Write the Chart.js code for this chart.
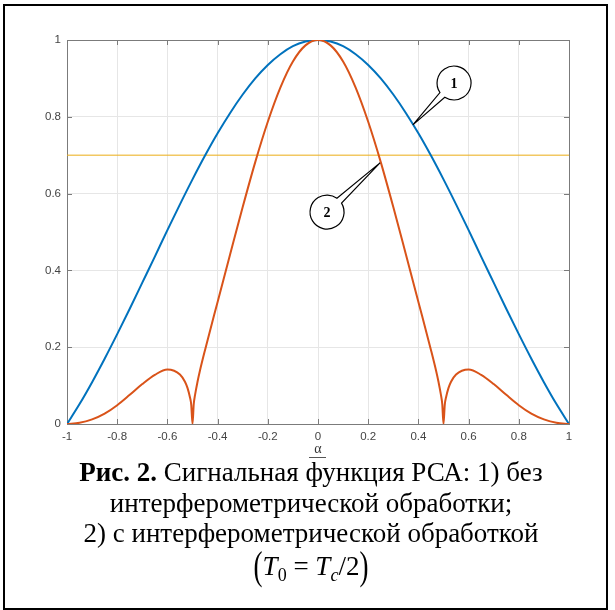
<!DOCTYPE html>
<html>
<head>
<meta charset="utf-8">
<script src="https://cdn.jsdelivr.net/npm/chart.js@4.4.1/dist/chart.umd.min.js"></script>
<style>
  html, body { margin: 0; padding: 0; background: #fff; overflow: hidden; }
  body { width: 615px; height: 610px; position: relative; }
  #frame { position: absolute; left: 3px; top: 4px; width: 605px; height: 606px;
           border: 2px solid #000; box-sizing: border-box; }
  #chart { position: absolute; left: 0; top: 0; }
  #cap { position: absolute; left: 0; top: 457px; width: 622px; text-align: center;
         font-family: "Liberation Serif", "Times New Roman", serif; font-size: 27px;
         line-height: 30.5px; color: #000; }
  #cap .f { display: inline-block; margin-top: 2px; }
  #cap .p { display: inline-block; transform: scaleY(1.45); font-weight: 300; }
  #cap sub { font-size: 18px; vertical-align: -6px; line-height: 0; }
</style>
</head>
<body>
<div id="frame"></div>
<canvas id="chart" width="615" height="460"></canvas>
<div id="cap"><b>Рис. 2.</b> Сигнальная функция РСА: 1) без<br>интерферометрической обработки;<br>2) с интерферометрической обработкой<br><span class="f"><span class="p">(</span><i>T</i><sub>0</sub> = <i>T</i><sub><i>c</i></sub>/2<span class="p">)</span></span></div>
<script>
// tick labels
var xTicks = [-1, -0.8, -0.6, -0.4, -0.2, 0, 0.2, 0.4, 0.6, 0.8, 1];
var yTicks = [0, 0.2, 0.4, 0.6, 0.8, 1];

// curve 1 - without interferometric processing
var alphaBlue = [-1, -0.95, -0.9, -0.85, -0.8, -0.75, -0.7, -0.65, -0.6, -0.55, -0.5,
  -0.45, -0.4, -0.35, -0.3, -0.25, -0.2, -0.15, -0.1, -0.05, 0,
  0.05, 0.1, 0.15, 0.2, 0.25, 0.3, 0.35, 0.4, 0.45, 0.5,
  0.55, 0.6, 0.65, 0.7, 0.75, 0.8, 0.85, 0.9, 0.95, 1];
var blueVals = [0, 0.052, 0.109, 0.170, 0.234, 0.300, 0.368, 0.436, 0.505, 0.572, 0.637,
  0.699, 0.757, 0.810, 0.858, 0.900, 0.935, 0.963, 0.984, 0.996, 1,
  0.996, 0.984, 0.963, 0.935, 0.900, 0.858, 0.810, 0.757, 0.699, 0.637,
  0.572, 0.505, 0.436, 0.368, 0.300, 0.234, 0.170, 0.109, 0.052, 0];

// curve 2 - with interferometric processing
var alphaOrange = [-1, -0.95, -0.9, -0.85, -0.8, -0.75, -0.7, -0.65, -0.6, -0.55,
  -0.53, -0.52, -0.51, -0.505, -0.5, -0.495, -0.49, -0.48, -0.47, -0.45,
  -0.4, -0.35, -0.3, -0.25, -0.2, -0.15, -0.1, -0.05, 0,
  0.05, 0.1, 0.15, 0.2, 0.25, 0.3, 0.35, 0.4, 0.45, 0.47, 0.48, 0.49, 0.495, 0.5,
  0.505, 0.51, 0.52, 0.53, 0.55, 0.6, 0.65, 0.7, 0.75, 0.8, 0.85, 0.9, 0.95, 1];
var orangeVals = [0, 0.003, 0.012, 0.027, 0.049, 0.076, 0.104, 0.128, 0.142, 0.129,
  0.110, 0.094, 0.069, 0.050, 0, 0.052, 0.075, 0.110, 0.140, 0.193,
  0.318, 0.442, 0.565, 0.682, 0.787, 0.876, 0.944, 0.986, 1,
  0.986, 0.944, 0.876, 0.787, 0.682, 0.565, 0.442, 0.318, 0.193, 0.140, 0.110, 0.075, 0.052, 0,
  0.050, 0.069, 0.094, 0.110, 0.129, 0.142, 0.128, 0.104, 0.076, 0.049, 0.027, 0.012, 0.003, 0];

// 0.7 level
var levelAlpha = [-1, 1];
var levelVals = [0.7, 0.7];

// callouts: circle centre and arrow tip, in axis units
var callouts = [
  {text: '1', cx: 0.542, cy: 0.888, tx: 0.378, ty: 0.779},
  {text: '2', cx: 0.036, cy: 0.552, tx: 0.247, ty: 0.680}
];

function pts(xs, ys) {
  return xs.map((x, i) => ({x: x, y: ys[i]}));
}

const boxColor = '#7b7b7b';

const matlabAxes = {
  id: 'matlabAxes',
  beforeDatasetsDraw(chart) {
    const {ctx, chartArea: a, scales} = chart;
    ctx.save();
    ctx.strokeStyle = boxColor;
    ctx.lineWidth = 1;
    ctx.beginPath();
    xTicks.forEach(v => {
      const px = Math.round(scales.x.getPixelForValue(v)) + 0.5;
      ctx.moveTo(px, a.top); ctx.lineTo(px, a.top + 5);
      ctx.moveTo(px, a.bottom); ctx.lineTo(px, a.bottom - 5);
    });
    yTicks.forEach(v => {
      const py = Math.round(scales.y.getPixelForValue(v)) + 0.5;
      ctx.moveTo(a.left, py); ctx.lineTo(a.left + 5, py);
      ctx.moveTo(a.right, py); ctx.lineTo(a.right - 5, py);
    });
    ctx.stroke();
    ctx.strokeRect(Math.round(a.left) + 0.5, Math.round(a.top) + 0.5,
      Math.round(a.right - a.left), Math.round(a.bottom - a.top));
    ctx.restore();
  },
  afterDraw(chart) {
    const {ctx, chartArea: a, scales} = chart;
    ctx.save();
    // x axis label
    const x0 = scales.x.getPixelForValue(0);
    ctx.fillStyle = '#333';
    ctx.font = '14px "Liberation Serif"';
    ctx.textAlign = 'center';
    ctx.textBaseline = 'middle';
    ctx.fillText('α', x0, a.bottom + 25);
    ctx.strokeStyle = '#555';
    ctx.lineWidth = 1;
    ctx.beginPath();
    ctx.moveTo(x0 - 9, a.bottom + 33.5); ctx.lineTo(x0 + 8, a.bottom + 33.5);
    ctx.stroke();

    // numbered callouts
    callouts.forEach(c => {
      const cx = scales.x.getPixelForValue(c.cx), cy = scales.y.getPixelForValue(c.cy);
      const tx = scales.x.getPixelForValue(c.tx), ty = scales.y.getPixelForValue(c.ty);
      const r = 17, h = 0.2;
      const ang = Math.atan2(ty - cy, tx - cx);
      ctx.beginPath();
      ctx.arc(cx, cy, r, ang + h, ang - h + 2 * Math.PI, false);
      ctx.lineTo(tx, ty);
      ctx.closePath();
      ctx.fillStyle = '#fff';
      ctx.fill();
      ctx.strokeStyle = '#000';
      ctx.lineWidth = 1.2;
      ctx.stroke();
      ctx.fillStyle = '#000';
      ctx.font = 'bold 14px "Liberation Serif"';
      ctx.fillText(c.text, cx, cy + 1);
    });
    ctx.restore();
  }
};

const tickFont = {family: '"Liberation Sans", Arial, sans-serif', size: 11.5};

new Chart(document.getElementById('chart'), {
  type: 'line',
  data: {
    datasets: [
      {data: pts(alphaOrange, orangeVals), borderColor: '#D95319', borderWidth: 2,
        cubicInterpolationMode: 'monotone', order: 0},
      {data: pts(alphaBlue, blueVals), borderColor: '#0072BD', borderWidth: 2,
        cubicInterpolationMode: 'monotone', order: 1},
      {data: pts(levelAlpha, levelVals), borderColor: 'rgba(237,177,32,0.7)', borderWidth: 1.5,
        order: 2}
    ]
  },
  options: {
    responsive: false,
    devicePixelRatio: 1,
    animation: false,
    events: [],
    elements: {point: {radius: 0}},
    layout: {padding: {left: 0, top: 40, right: 46, bottom: 0}},
    plugins: {legend: {display: false}, tooltip: {enabled: false}},
    scales: {
      x: {
        type: 'linear', min: -1, max: 1,
        afterBuildTicks: s => { s.ticks = xTicks.map(v => ({value: v})); },
        afterFit: s => { s.height = 36; },
        ticks: {font: tickFont, color: '#444', padding: 6, maxRotation: 0,
          callback: v => String(v)},
        grid: {color: '#e6e6e6', drawTicks: false},
        border: {display: false}
      },
      y: {
        min: 0, max: 1,
        afterBuildTicks: s => { s.ticks = yTicks.map(v => ({value: v})); },
        afterFit: s => { s.width = 67; },
        ticks: {font: tickFont, color: '#444', padding: 6, callback: v => String(v)},
        grid: {color: '#e6e6e6', drawTicks: false},
        border: {display: false}
      }
    }
  },
  plugins: [matlabAxes]
});
</script>
</body>
</html>
